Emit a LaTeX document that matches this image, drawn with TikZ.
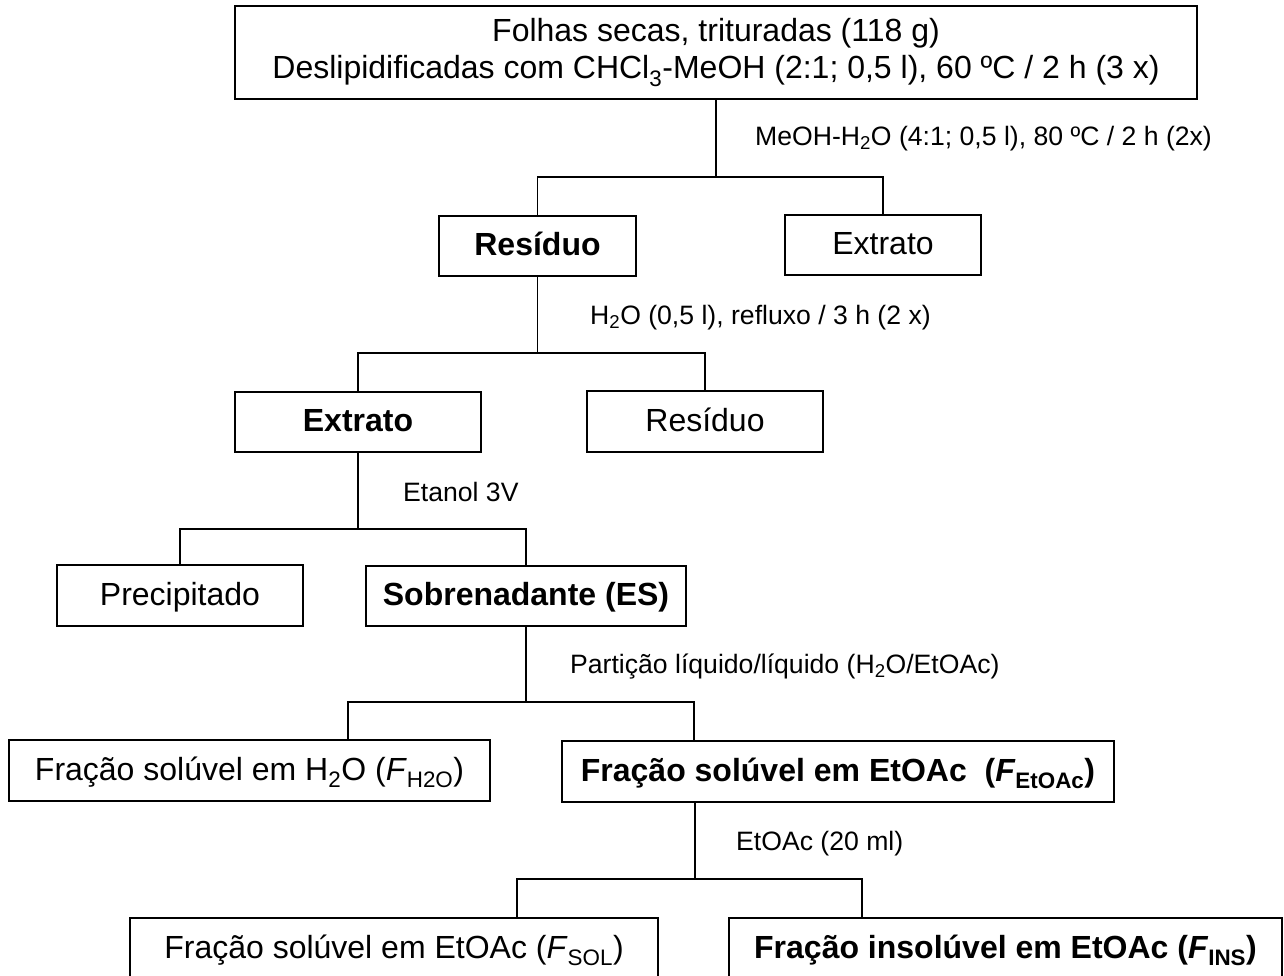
\documentclass[tikz,border=0pt]{standalone}
\usepackage{fontspec}
\setmainfont{Liberation Sans}
\begin{document}
\begin{tikzpicture}[x=1pt,y=-1pt,
  box/.style={draw=black,line width=1.7pt,inner sep=0pt,anchor=center,
    font=\fontsize{32}{37}\selectfont,text height=22.9pt,text depth=3pt},
  conn/.style={draw=black,line width=1.4pt},
  lab/.style={anchor=base west,inner sep=0pt,font=\fontsize{26.6}{32}\selectfont}]
\useasboundingbox (0,0) rectangle (1284,975);
% boxes
\node[box,minimum width=962pt,minimum height=93pt,align=center,text height=,text depth=] (top) at (716,52.5)
  {Folhas secas, trituradas (118 g)\\Deslipidificadas com CHCl\textsubscript{3}-MeOH (2:1; 0,5 l), 60 ºC / 2 h (3 x)};
\node[box,minimum width=197pt,minimum height=60pt] (resA) at (537.5,246) {\textbf{Resíduo}};
\node[box,minimum width=196pt,minimum height=60pt] (extA) at (883,245) {Extrato};
\node[box,minimum width=246pt,minimum height=60pt] (extB) at (358,422) {\textbf{Extrato}};
\node[box,minimum width=236pt,minimum height=61pt] (resB) at (705,421.5) {Resíduo};
\node[box,minimum width=246pt,minimum height=61pt] (prec) at (180,595.5) {Precipitado};
\node[box,minimum width=320pt,minimum height=60pt] (sobr) at (526,596) {\textbf{Sobrenadante (ES)}};
\node[box,minimum width=481pt,minimum height=61pt] (fh2o) at (249.5,770.5)
  {Fração solúvel em H\textsubscript{2}O (\textit{F}\textsubscript{H2O})};
\node[box,minimum width=552pt,minimum height=61pt] (fet) at (838,771.5)
  {\textbf{Fração solúvel em EtOAc\ \ (\textit{F}\textsubscript{EtOAc})}};
\node[box,minimum width=528pt,minimum height=61pt] (fsol) at (394,948.5)
  {Fração solúvel em EtOAc (\textit{F}\textsubscript{SOL})};
\node[box,minimum width=553pt,minimum height=61pt] (fins) at (1005.5,948.5)
  {\textbf{Fração insolúvel em EtOAc (\textit{F}\textsubscript{INS})}};
% junctions
\coordinate (j1) at (716,177);
\coordinate (j2) at (537.5,353);
\coordinate (j3) at (358,529);
\coordinate (j4) at (526,702);
\coordinate (j5) at (695,879);
% connectors
\draw[conn] (top.south) -- (j1);
\draw[conn] (resA.north) |- (j1) -| (extA.north);
\draw[conn] (resA.south) -- (j2);
\draw[conn] (extB.north) |- (j2) -| (resB.north);
\draw[conn] (extB.south) -- (j3);
\draw[conn] (prec.north) |- (j3) -| (sobr.north);
\draw[conn] (sobr.south) -- (j4);
\draw[conn] ([xshift=98.5pt]fh2o.north) |- (j4) -| ([xshift=-144pt]fet.north);
\draw[conn] ([xshift=-143pt]fet.south) -- (j5);
\draw[conn] ([xshift=123pt]fsol.north) |- (j5) -| ([xshift=-143.5pt]fins.north);
% labels
\node[lab] (l1) at (755,145) {MeOH-H\textsubscript{2}O (4:1; 0,5 l), 80 ºC / 2 h (2x)};
\node[lab] (l2) at (590,324) {H\textsubscript{2}O (0,5 l), refluxo / 3 h (2 x)};
\node[lab] (l3) at (403,501) {Etanol 3V};
\node[lab] (l4) at (570,673) {Partição líquido/líquido (H\textsubscript{2}O/EtOAc)};
\node[lab] (l5) at (736,850) {EtOAc (20 ml)};
\end{tikzpicture}
\end{document}
